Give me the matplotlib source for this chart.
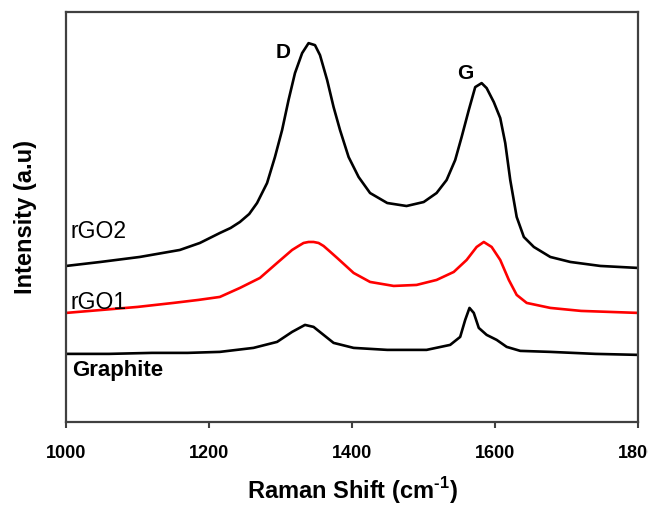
import numpy as np
import matplotlib
matplotlib.use('Agg')
import matplotlib.pyplot as plt

plt.rcParams['font.family'] = ['Liberation Sans', 'DejaVu Sans']
plt.rcParams['mathtext.fontset'] = 'custom'
plt.rcParams['mathtext.rm'] = 'Liberation Sans:bold'
plt.rcParams['mathtext.bf'] = 'Liberation Sans:bold'

# Raman shift (cm^-1) and intensity (a.u.) for each sample
rgo2_shift = [1000, 1048, 1103, 1159, 1187, 1215, 1230, 1243, 1256, 1267, 1281, 1292,
              1302, 1311, 1320, 1330, 1339, 1348, 1355, 1365, 1374, 1383, 1395, 1409,
              1425, 1449, 1476, 1500, 1518, 1532, 1544, 1553, 1563, 1572, 1581, 1588,
              1598, 1607, 1614, 1621, 1630, 1640, 1654, 1677, 1705, 1747, 1800]
rgo2_int = [156, 160, 165, 172, 179, 189, 194, 200, 208, 219, 239, 265,
            292, 322, 349, 369, 379, 377, 367, 342, 315, 292, 265, 245,
            229, 219, 216, 220, 229, 242, 262, 285, 312, 335, 339, 334,
            320, 304, 279, 242, 205, 185, 175, 165, 160, 156, 154]

rgo1_shift = [1000, 1050, 1100, 1150, 1185, 1215, 1243, 1271, 1295, 1316, 1325, 1332,
              1339, 1346, 1353, 1360, 1368, 1379, 1402, 1425, 1458, 1490, 1518, 1542,
              1560, 1574, 1584, 1595, 1607, 1619, 1630, 1644, 1677, 1720, 1760, 1800]
rgo1_int = [109, 112, 115, 119, 122, 125, 134, 144, 159, 172, 176, 179,
            180, 180, 179, 176, 171, 164, 149, 140, 136, 137, 142, 150,
            162, 175, 180, 175, 162, 142, 127, 119, 114, 111, 110, 109]

graphite_shift = [1000, 1060, 1120, 1170, 1215, 1262, 1295, 1316, 1334, 1346, 1360, 1374,
                  1402, 1449, 1504, 1537, 1551, 1558, 1564, 1570, 1577, 1588, 1602, 1616,
                  1635, 1677, 1740, 1800]
graphite_int = [68, 68, 69, 69, 70, 74, 80, 90, 97, 95, 87, 79,
                74, 72, 72, 77, 85, 102, 114, 109, 94, 87, 82, 75,
                71, 70, 68, 67]

sample_names = ['rGO2', 'rGO1', 'Graphite']
peak_names = ['D', 'G']

fig, ax = plt.subplots(figsize=(6.48, 5.07), dpi=100)
fig.subplots_adjust(left=0.102, right=0.985, bottom=0.168, top=0.976)

ax.plot(rgo2_shift, rgo2_int, color='black', lw=1.9)
ax.plot(rgo1_shift, rgo1_int, color='#ff0000', lw=1.9)
ax.plot(graphite_shift, graphite_int, color='black', lw=1.9)

ax.set_xlim(1000, 1800)
ax.set_ylim(0, 410)
ax.set_xticks([1000, 1200, 1400, 1600, 1800])
ax.set_yticks([])

# curve labels and peak labels
ax.text(1006, 190, sample_names[0], fontsize=16.5, va='center', ha='left')
ax.text(1006, 119, sample_names[1], fontsize=16.5, va='center', ha='left')
ax.text(1008, 51, sample_names[2], fontsize=16, fontweight='bold', va='center', ha='left')
ax.text(1304, 370, peak_names[0], fontsize=15, fontweight='bold', va='center', ha='center')
ax.text(1558, 349, peak_names[1], fontsize=15, fontweight='bold', va='center', ha='center')

for side in ['left', 'right', 'top', 'bottom']:
    ax.spines[side].set_color('#404040')
    ax.spines[side].set_linewidth(1.6)

ax.tick_params(axis='x', direction='out', length=4, width=1.5, color='#404040',
               labelsize=13, pad=13)
for lbl in ax.get_xticklabels():
    lbl.set_fontweight('bold')

ax.set_xlabel('Raman Shift (cm$^{\\text{-1}}$)', fontsize=17, fontweight='bold', labelpad=9)
ax.set_ylabel('Intensity (a.u)', fontsize=17, fontweight='bold', labelpad=21)

fig.savefig('out.png', dpi=100)
